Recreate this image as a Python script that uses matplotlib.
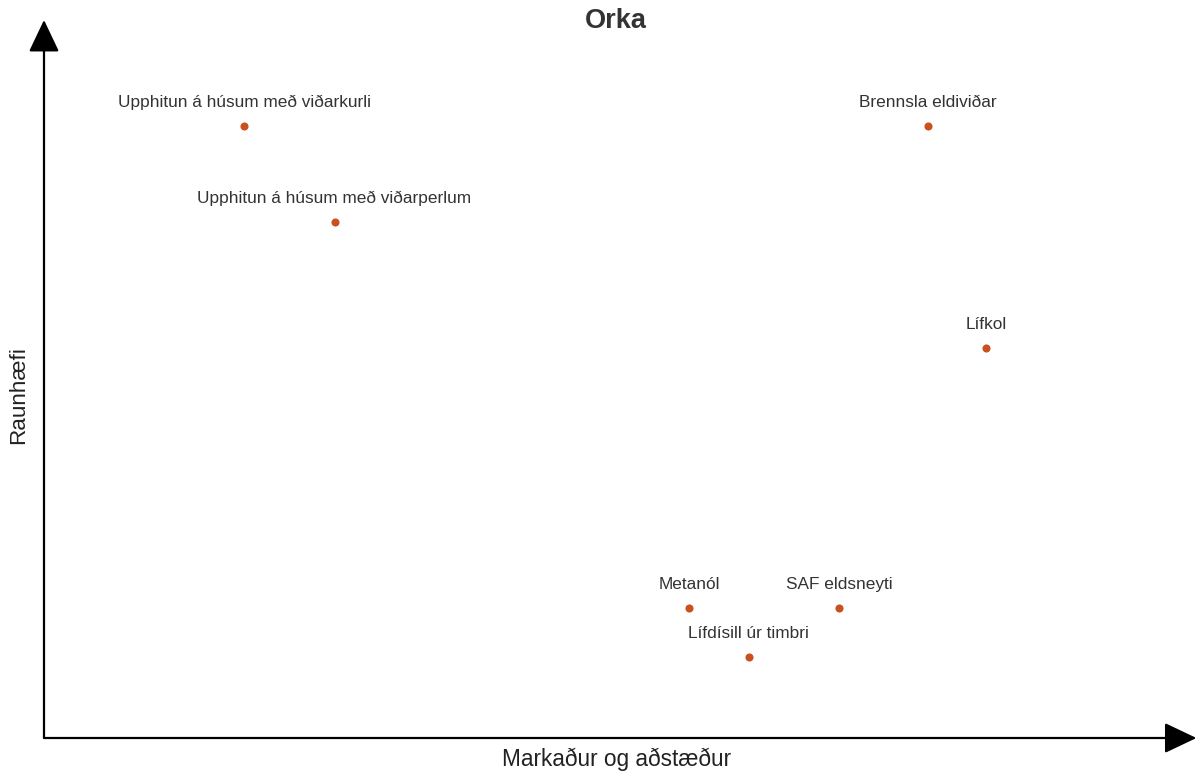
import matplotlib
matplotlib.use("Agg")
from matplotlib import pyplot as plt

plt.rcParams['font.family'] = ['Liberation Sans', 'DejaVu Sans']

# Orka: Markaður og aðstæður (x) vs Raunhæfi (y), skali 0-100
names = [
    "Upphitun á húsum með viðarkurli",
    "Brennsla eldiviðar",
    "Upphitun á húsum með viðarperlum",
    "Lífkol",
    "Metanól",
    "SAF eldsneyti",
    "Lífdísill úr timbri",
]
markadur = [17.8, 78.5, 25.8, 83.7, 57.3, 70.6, 62.6]
raunhaefi = [88.7, 88.7, 74.8, 56.5, 18.8, 18.8, 11.7]

W, H = 1198, 771
fig = plt.figure(figsize=(W / 100, H / 100), dpi=100)
ax = fig.add_axes([44 / W, 33 / H, 1126 / W, 690 / H])
ax.set_xlim(0, 100)
ax.set_ylim(0, 100)
for s in ax.spines.values():
    s.set_visible(False)
ax.set_xticks([])
ax.set_yticks([])

ax.scatter(markadur, raunhaefi, s=34, color='#c9511f', zorder=3, linewidths=0)
for n, x, y in zip(names, markadur, raunhaefi):
    ax.annotate(n, (x, y), xytext=(0, 17), textcoords='offset points',
                ha='center', va='center', fontsize=12.4, color='#333333')

# axis arrows
arrow = dict(arrowstyle='-|>,head_length=20,head_width=9.5', mutation_scale=1,
             color='black', lw=1.6, shrinkA=0, shrinkB=0)
ax.annotate('', xy=(0, 1.0406), xytext=(0, 0), xycoords='axes fraction',
            textcoords='axes fraction', arrowprops=arrow, annotation_clip=False)
ax.annotate('', xy=(1.0235, 0), xytext=(0, 0), xycoords='axes fraction',
            textcoords='axes fraction', arrowprops=arrow, annotation_clip=False)

fig.text(616 / W, 1 - 21 / H, "Orka", ha='center', va='center',
         fontsize=19.5, fontweight='bold', color='#333333')
fig.text(617 / W, 1 - 759 / H, "Markaður og aðstæður", ha='center', va='center',
         fontsize=16.3, color='#222222')
fig.text(19 / W, 1 - 395 / H, "Raunhæfi", ha='center', va='center',
         rotation=90, fontsize=16.2, color='#222222')

fig.savefig('out.png', dpi=100)
